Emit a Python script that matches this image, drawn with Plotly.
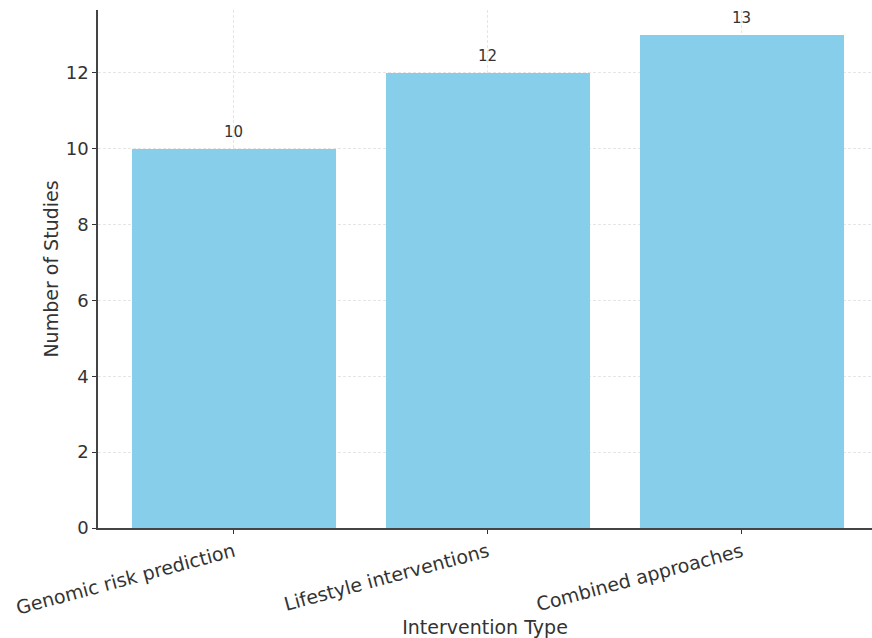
import plotly.graph_objects as go

# Study counts per intervention category
categories = ["Genomic risk prediction", "Lifestyle interventions", "Combined approaches"]
study_counts = [10, 12, 13]
y_ticks = [0, 2, 4, 6, 8, 10, 12]

bar_color = "#87CEEB"
text_color = "#333333"
font_family = "DejaVu Sans, Verdana, sans-serif"

x_pos = list(range(len(categories)))

fig = go.Figure()
fig.add_trace(go.Bar(
    x=x_pos,
    y=study_counts,
    width=0.8,
    marker=dict(color=bar_color, line=dict(width=0)),
    showlegend=False,
    hoverinfo="skip",
))

# Value labels above each bar
for xi, v in zip(x_pos, study_counts):
    fig.add_annotation(
        x=xi, y=v, text=str(v), showarrow=False,
        xanchor="center", yanchor="bottom", yshift=6,
        font=dict(family=font_family, size=15, color=text_color),
    )

fig.update_layout(
    width=872, height=638,
    margin=dict(l=98, r=0, t=10, b=110),
    paper_bgcolor="white",
    plot_bgcolor="white",
    font=dict(family=font_family, color=text_color),
    bargap=0,
)

grid_style = dict(showgrid=True, gridcolor="#e6e6e6", griddash="3px,2px", gridwidth=1)

fig.update_xaxes(
    range=[-0.535, 2.512],
    tickmode="array",
    tickvals=x_pos,
    ticktext=categories,
    tickangle=-15,
    tickfont=dict(size=19, color=text_color),
    ticks="outside", ticklen=4, tickcolor=text_color,
    showline=True, linecolor="#444444", linewidth=1.5,
    zeroline=False,
    title=dict(text="Intervention Type", font=dict(size=19, color=text_color), standoff=4),
    **grid_style,
)

fig.update_yaxes(
    range=[0, 13.65],
    tickmode="array",
    tickvals=y_ticks,
    tickfont=dict(size=18, color=text_color),
    ticks="outside", ticklen=4, tickcolor=text_color,
    showline=True, linecolor="#444444", linewidth=1.5,
    zeroline=False,
    title=dict(text="Number of Studies", font=dict(size=19, color=text_color), standoff=2),
    **grid_style,
)

fig.write_html("out.html")
